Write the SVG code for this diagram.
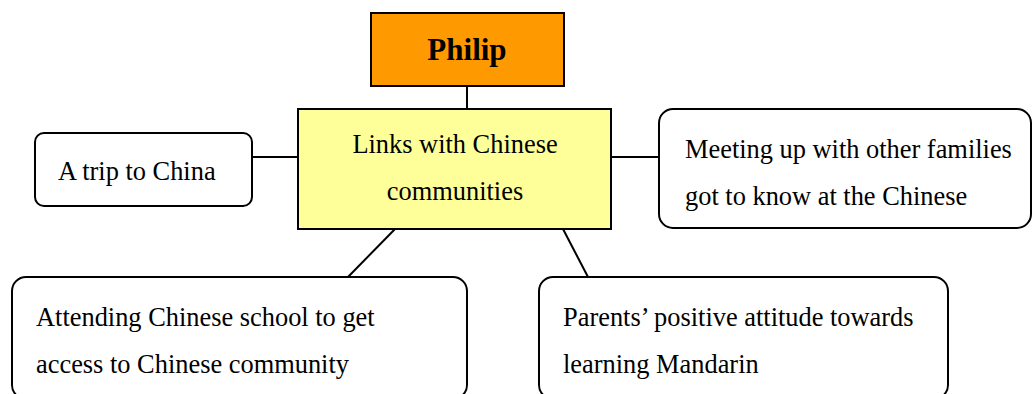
<svg xmlns="http://www.w3.org/2000/svg" width="1033" height="394" viewBox="0 0 1033 394">
  <style>
    .box { stroke: #000; stroke-width: 2; }
    .leaf { fill: #fff; }
    .txt { font-family: "Liberation Serif", "Times New Roman", serif; font-size: 26.4px; fill: #000; }
    .title { font-family: "Liberation Serif", "Times New Roman", serif; font-size: 31px; font-weight: bold; fill: #000; }
    .link { stroke: #000; stroke-width: 2; fill: none; }
  </style>
  <rect width="1033" height="394" fill="#fff"/>

  <!-- connectors -->
  <g id="connectors">
    <line class="link" x1="467" y1="86" x2="467" y2="109"/>
    <line class="link" x1="252" y1="157" x2="298" y2="157"/>
    <line class="link" x1="611" y1="157" x2="659" y2="157"/>
    <line class="link" x1="395" y1="229" x2="348" y2="277"/>
    <line class="link" x1="563" y1="229" x2="588" y2="277"/>
  </g>

  <g id="philip">
    <rect class="box" x="371" y="13" width="193" height="73" fill="#ff9900"/>
    <text class="title" x="467" y="60" text-anchor="middle">Philip</text>
  </g>

  <g id="links">
    <rect class="box" x="298" y="109" width="313" height="120" fill="#ffff99"/>
    <text class="txt" x="455" y="153" text-anchor="middle">Links with Chinese</text>
    <text class="txt" x="455" y="200" text-anchor="middle">communities</text>
  </g>

  <g id="trip">
    <rect class="box leaf" x="35" y="133" width="217" height="73" rx="9"/>
    <text class="txt" x="58" y="180">A trip to China</text>
  </g>

  <g id="meeting">
    <rect class="box leaf" x="659" y="109" width="372" height="119" rx="14"/>
    <text class="txt" x="685" y="158">Meeting up with other families</text>
    <text class="txt" x="685" y="205">got to know at the Chinese</text>
  </g>

  <g id="school">
    <rect class="box leaf" x="12" y="277" width="455" height="122" rx="14"/>
    <text class="txt" x="36" y="326">Attending Chinese school to get</text>
    <text class="txt" x="36" y="373">access to Chinese community</text>
  </g>

  <g id="parents">
    <rect class="box leaf" x="539" y="277" width="409" height="122" rx="14"/>
    <text class="txt" x="563" y="326">Parents’ positive attitude towards</text>
    <text class="txt" x="563" y="373">learning Mandarin</text>
  </g>
</svg>
